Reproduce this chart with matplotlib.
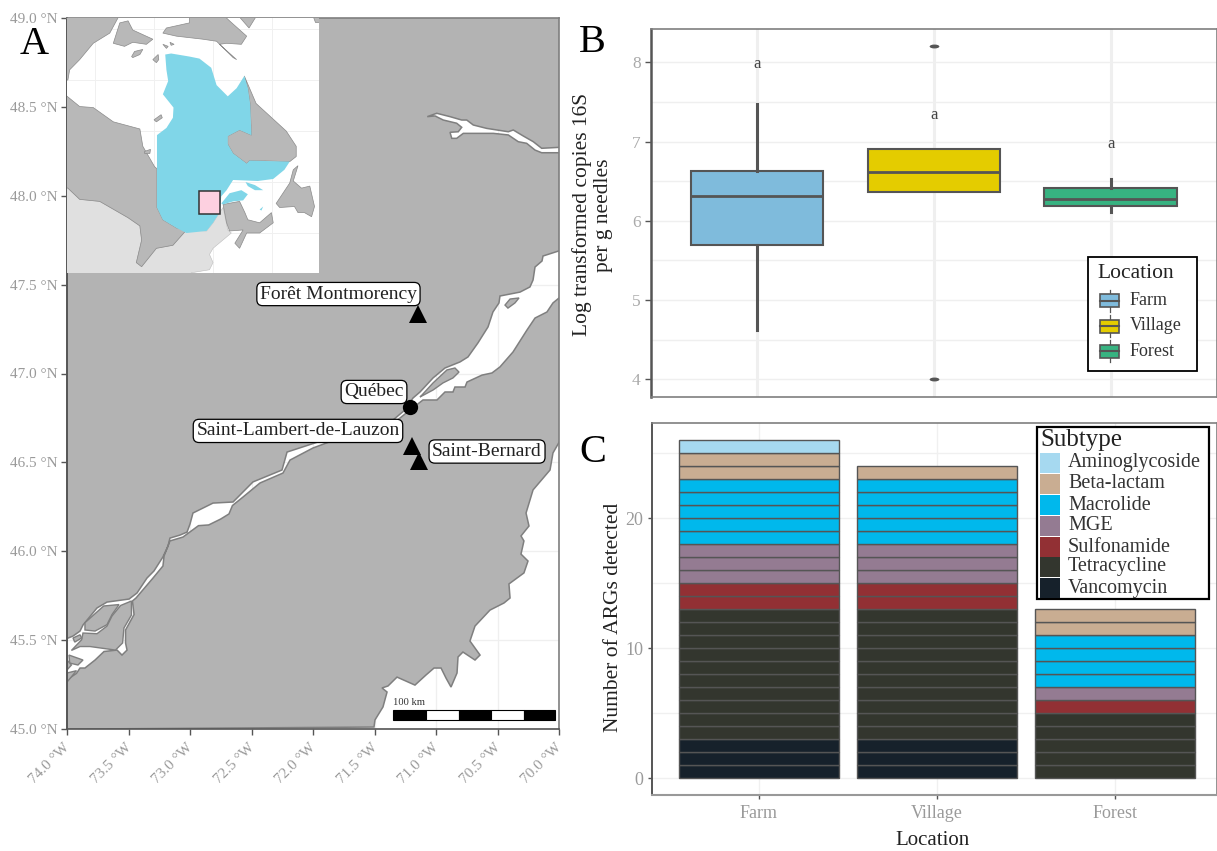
import numpy as np
import matplotlib
matplotlib.use('Agg')
import matplotlib.pyplot as plt
from matplotlib.patches import PathPatch, Rectangle, Polygon
from matplotlib.path import Path
from matplotlib.transforms import Affine2D, ScaledTranslation

plt.rcParams['font.family'] = ['Liberation Serif', 'DejaVu Sans']

W, H = 1217, 851

# --- panel A data (lon, lat) ---
estuary_north = [(-69.9, 47.712), (-70.130, 47.661), (-70.138, 47.633), (-70.195, 47.599), (-70.211, 47.526),
                 (-70.236, 47.487), (-70.317, 47.458), (-70.480, 47.436), (-70.488, 47.397), (-70.537, 47.346),
                 (-70.577, 47.262), (-70.659, 47.172), (-70.740, 47.093), (-70.805, 47.065), (-70.927, 47.031),
                 (-71.024, 46.975), (-71.130, 46.896), (-71.187, 46.862), (-71.252, 46.795), (-71.350, 46.738),
                 (-71.512, 46.721), (-71.959, 46.615), (-72.211, 46.558), (-72.252, 46.457), (-72.488, 46.390),
                 (-72.650, 46.277), (-72.813, 46.271), (-72.976, 46.215), (-73.000, 46.153), (-73.024, 46.108),
                 (-73.081, 46.091), (-73.163, 46.074), (-73.179, 46.029), (-73.220, 45.968), (-73.293, 45.889),
                 (-73.350, 45.849), (-73.431, 45.765), (-73.496, 45.731), (-73.675, 45.714), (-73.756, 45.681),
                 (-73.870, 45.585), (-73.894, 45.551), (-73.951, 45.523), (-74.05, 45.495)]
estuary_south = [(-74.05, 45.253), (-73.923, 45.313), (-73.894, 45.343), (-73.854, 45.343), (-73.772, 45.388),
                 (-73.699, 45.436), (-73.593, 45.444), (-73.553, 45.416), (-73.512, 45.444), (-73.524, 45.484),
                 (-73.524, 45.557), (-73.455, 45.644), (-73.468, 45.720), (-73.439, 45.737), (-73.301, 45.849),
                 (-73.220, 45.917), (-73.211, 45.973), (-73.163, 46.058), (-73.057, 46.080), (-72.931, 46.144),
                 (-72.848, 46.148), (-72.751, 46.181), (-72.683, 46.210), (-72.655, 46.257), (-72.569, 46.305),
                 (-72.431, 46.384), (-72.244, 46.440), (-72.187, 46.513), (-72.000, 46.581), (-71.496, 46.710),
                 (-71.333, 46.727), (-71.211, 46.795), (-71.106, 46.851), (-70.992, 46.851), (-70.927, 46.896),
                 (-70.862, 46.896), (-70.846, 46.924), (-70.764, 46.924), (-70.748, 46.952), (-70.626, 46.991),
                 (-70.545, 47.003), (-70.480, 47.037), (-70.374, 47.121), (-70.260, 47.245), (-70.195, 47.312),
                 (-70.098, 47.346), (-70.049, 47.397), (-69.9, 47.481)]
saguenay = [(-71.071, 48.445), (-70.994, 48.464), (-70.886, 48.445), (-70.791, 48.426), (-70.750, 48.426),
            (-70.697, 48.398), (-70.588, 48.379), (-70.412, 48.360), (-70.372, 48.370), (-70.290, 48.336),
            (-70.209, 48.304), (-70.141, 48.267), (-69.9, 48.276), (-69.9, 48.242), (-70.141, 48.242),
            (-70.195, 48.257), (-70.263, 48.295), (-70.331, 48.304), (-70.412, 48.342), (-70.534, 48.351),
            (-70.778, 48.351), (-70.832, 48.323), (-70.872, 48.323), (-70.886, 48.357), (-70.819, 48.360),
            (-70.791, 48.385), (-70.832, 48.408), (-70.941, 48.426), (-71.008, 48.449)]
south_east = [(-69.9, 46.733), (-70.049, 46.553), (-70.073, 46.457), (-70.211, 46.345), (-70.268, 46.215),
              (-70.244, 46.142), (-70.309, 46.086), (-70.285, 46.058), (-70.309, 45.984), (-70.252, 45.945),
              (-70.285, 45.878), (-70.407, 45.816), (-70.398, 45.737), (-70.447, 45.709), (-70.561, 45.669),
              (-70.683, 45.579), (-70.724, 45.495), (-70.642, 45.416), (-70.683, 45.388), (-70.781, 45.433),
              (-70.821, 45.405), (-70.829, 45.315), (-70.878, 45.236), (-70.919, 45.287), (-70.959, 45.343),
              (-71.016, 45.343), (-71.081, 45.304), (-71.171, 45.247), (-71.317, 45.292), (-71.390, 45.242),
              (-71.439, 45.231), (-71.398, 45.208), (-71.431, 45.124), (-71.496, 45.051), (-71.504, 45.011),
              (-74.05, 44.999), (-74.05, 44.9), (-69.9, 44.9)]
river_islands = [
    [(-71.130, 46.868), (-71.024, 46.907), (-70.943, 46.947), (-70.862, 46.975), (-70.813, 47.008),
     (-70.846, 47.031), (-70.911, 47.020), (-71.024, 46.947), (-71.114, 46.879)],
    [(-70.439, 47.385), (-70.398, 47.419), (-70.325, 47.425), (-70.358, 47.397), (-70.415, 47.368)],
    [(-73.577, 45.700), (-73.702, 45.692), (-73.854, 45.598), (-73.854, 45.557), (-73.772, 45.551),
     (-73.675, 45.587), (-73.634, 45.644)],
    [(-73.476, 45.720), (-73.564, 45.695), (-73.634, 45.636), (-73.675, 45.579), (-73.756, 45.536),
     (-73.870, 45.540), (-73.881, 45.502), (-73.964, 45.442), (-73.894, 45.464), (-73.813, 45.464),
     (-73.606, 45.444), (-73.548, 45.484), (-73.537, 45.568), (-73.476, 45.641)],
    [(-73.951, 45.512), (-73.894, 45.530), (-73.881, 45.512), (-73.937, 45.489)],
    [(-73.984, 45.416), (-73.870, 45.388), (-73.911, 45.360), (-73.978, 45.371)],
    [(-74.0, 45.388), (-73.964, 45.360), (-74.0, 45.332)],
    [(-74.0, 45.315), (-73.923, 45.328), (-74.0, 45.264)],
]

site_lon = [-71.146, -71.198, -71.136]
site_lat = [47.335, 46.594, 46.509]
city_lon = [-71.211]
city_lat = [46.812]
label_names = ['Forêt Montmorency', 'Québec', 'Saint-Lambert-de-Lauzon', 'Saint-Bernard']
label_lon = [-71.793, -71.504, -72.122, -70.585]
label_lat = [47.447, 46.896, 46.677, 46.561]
scale_edges = [-71.35, -71.081, -70.817, -70.549, -70.287, -70.03]

lon_ticks = [-74.0, -73.5, -73.0, -72.5, -72.0, -71.5, -71.0, -70.5, -70.0]
lat_ticks = [45.0, 45.5, 46.0, 46.5, 47.0, 47.5, 48.0, 48.5, 49.0]

# --- inset data (lon, lat) ---
quebec = [(-78.1, 62.5), (-77.1, 62.6), (-74.0, 62.3), (-72.3, 62.1), (-70.3, 61.2), (-69.4, 59.5), (-67.5, 58.4),
          (-66.0, 59.2), (-64.7, 60.4), (-64.1, 59.2), (-63.7, 57.6), (-63.5, 54.6), (-65.5, 55.1), (-67.5, 54.5),
          (-67.5, 53.7), (-66.6, 52.8), (-64.3, 51.8), (-63.8, 52.1), (-57.0, 52.0), (-57.9, 51.2), (-59.8, 50.3),
          (-62.4, 50.1), (-66.6, 50.2), (-67.7, 49.2), (-68.6, 48.6), (-68.9, 47.0), (-70.0, 46.0), (-71.1, 45.2),
          (-74.5, 45.0), (-76.2, 45.5), (-78.5, 46.3), (-79.5, 47.5), (-79.5, 54.6), (-77.9, 55.3), (-76.8, 56.3),
          (-76.7, 57.3), (-78.5, 58.6), (-77.6, 59.9), (-77.9, 61.0)]
quebec_parts = [[(-68.6, 47.9), (-67.2, 48.9), (-65.2, 49.2), (-64.1, 48.8), (-64.9, 48.2), (-66.6, 48.1), (-68.3, 47.8)],
                [(-64.5, 50.0), (-62.9, 49.7), (-61.5, 49.2), (-62.9, 49.2), (-64.1, 49.6)],
                [(-62.1, 47.3), (-61.5, 47.6), (-61.8, 47.2)]]
usa = [(-96, 49.6), (-94.6, 49.4), (-92.6, 48.3), (-89.2, 48.1), (-84.4, 46.5), (-82.4, 45.7), (-82.1, 44.3),
       (-83.0, 42.1), (-82.1, 41.7), (-79.6, 43.5), (-76.8, 43.8), (-74.5, 45.3), (-71.1, 45.2), (-70.0, 46.0),
       (-68.9, 47.0), (-68.3, 47.5), (-67.5, 45.3), (-66.9, 45.0), (-70.0, 43.5), (-70.6, 42.9), (-70.0, 42.1),
       (-70.6, 41.4), (-73.7, 41.1), (-73.7, 40.5), (-96, 40.5)]
ontario = [(-96, 59.0), (-92.6, 57.4), (-90.3, 57.3), (-86.9, 55.9), (-82.4, 55.2), (-81.9, 53.5), (-79.9, 51.5),
           (-79.5, 51.3), (-79.5, 47.5), (-78.5, 46.3), (-76.2, 45.5), (-74.5, 45.3), (-76.8, 43.8), (-79.6, 43.5),
           (-82.1, 41.7), (-83.0, 42.1), (-82.1, 44.3), (-82.4, 45.7), (-84.4, 46.5), (-89.2, 48.1), (-92.6, 48.3),
           (-94.6, 49.4), (-96, 49.6)]
labrador = [(-64.7, 60.4), (-62.7, 57.7), (-57.6, 55.0), (-55.9, 53.5), (-55.9, 52.5), (-57.0, 52.0), (-63.8, 52.1),
            (-64.3, 51.8), (-66.6, 52.8), (-67.5, 53.7), (-67.5, 54.5), (-65.5, 55.1), (-63.5, 54.6), (-63.7, 57.6),
            (-64.1, 59.2)]
maritimes = [(-68.3, 47.8), (-65.5, 48.1), (-64.6, 47.0), (-64.1, 46.3), (-62.1, 46.0), (-60.1, 47.0), (-59.8, 46.0),
             (-62.1, 45.0), (-64.3, 45.0), (-65.5, 43.5), (-66.3, 44.0), (-64.9, 45.3), (-67.2, 45.2), (-67.7, 46.0)]
newfoundland = [(-59.3, 47.9), (-57.0, 49.9), (-56.4, 51.2), (-55.6, 51.6), (-56.4, 50.1), (-55.0, 49.4), (-53.6, 49.6),
                (-52.8, 47.6), (-53.3, 46.6), (-54.5, 47.0), (-55.6, 47.0), (-56.2, 47.6), (-58.7, 47.5)]
nunavut = [(-96, 67), (-86.1, 67), (-86.1, 66.1), (-87.5, 64.6), (-90.3, 63.6), (-92.6, 62.0), (-94.3, 61.0),
           (-94.6, 60.0), (-96, 60.0)]
southampton = [(-86.9, 63.6), (-85.8, 65.6), (-84.4, 65.8), (-83.6, 64.9), (-80.2, 64.0), (-81.3, 63.5), (-83.6, 63.7),
               (-85.0, 63.3)]
baffin = [(-74.0, 66.5), (-74.0, 65.6), (-77.9, 65.1), (-78.5, 64.6), (-76.2, 64.3), (-71.7, 64.0), (-69.4, 63.8),
          (-66.6, 62.2), (-66.0, 62.0), (-68.9, 63.5), (-67.7, 63.6), (-65.2, 63.5), (-64.3, 64.3), (-67.2, 65.8),
          (-68.5, 66.5)]
small_land = [[(-66.0, 66.5), (-62.4, 66.5), (-63.9, 65.1)],
              [(-83.8, 62.3), (-83.3, 62.8), (-81.9, 63.0), (-82.4, 62.5), (-83.6, 62.2)],
              [(-80.2, 62.0), (-79.3, 62.5), (-79.2, 62.0), (-79.6, 61.7)],
              [(-78.5, 63.5), (-77.6, 63.3), (-77.9, 63.1)],
              [(-77.3, 63.7), (-76.6, 63.5), (-77.1, 63.4)],
              [(-80.0, 56.1), (-78.8, 56.6), (-78.6, 56.3), (-79.6, 55.9)],
              [(-81.6, 53.0), (-80.6, 53.2), (-80.7, 52.8), (-81.6, 52.8)],
              [(-53.3, 66.5), (-52, 66.5), (-52, 65.7), (-52.7, 65.7)]]
study_box = [-72.4, 46.9, 3.5, 2.2]

# --- panel B data ---
locations = ['Farm', 'Village', 'Forest']
box_q1 = [5.697, 6.366, 6.19]
box_med = [6.31, 6.613, 6.27]
box_q3 = [6.63, 6.90, 6.41]
box_lo = [4.62, 6.366, 6.11]
box_hi = [7.47, 6.90, 6.53]
box_out = [[], [4.0, 8.21], []]
box_colors = ['#7fbbdc', '#e4cc00', '#37b381']
letter_y = [7.98, 7.33, 6.97]

# --- panel C data ---
subtypes = ['Aminoglycoside', 'Beta-lactam', 'Macrolide', 'MGE', 'Sulfonamide', 'Tetracycline', 'Vancomycin']
sub_colors = ['#a6d9f0', '#c9ad92', '#00b8ec', '#947b92', '#923034', '#33362e', '#16212b']
farm_counts = [1, 2, 5, 3, 2, 10, 3]
village_counts = [0, 1, 5, 3, 2, 10, 3]
forest_counts = [0, 2, 4, 1, 1, 5, 0]

TICK_GREY = '#9a9a9a'
LINE_DARK = '#555555'
EDGE_GREY = '#7f7f7f'


def px_rect(left, top, right, bottom):
    return [left / W, 1 - bottom / H, (right - left) / W, (bottom - top) / H]


def style_spines(ax):
    for s in ['top', 'right', 'bottom']:
        ax.spines[s].set_color(EDGE_GREY)
        ax.spines[s].set_linewidth(1.2)
    ax.spines['left'].set_color(LINE_DARK)
    ax.spines['left'].set_linewidth(1.4)


def ring(points, hole=False):
    # holes must wind the opposite way to the outer ring
    pts = np.array(points)
    x, y = pts[:, 0], pts[:, 1]
    area = 0.5 * np.sum(x * np.roll(y, -1) - np.roll(x, -1) * y)
    if (area < 0) != hole:
        pts = pts[::-1]
    return pts


fig = plt.figure(figsize=(W / 100, H / 100), dpi=100, facecolor='white')

# panel A
ax_a = fig.add_axes(px_rect(67, 18, 559, 729))
ax_a.set_xlim(-74, -70)
ax_a.set_ylim(45, 49)
ax_a.set_axisbelow(True)
ax_a.grid(True, color='#efefef', lw=0.9)

outer = ring([(-75, 44), (-69, 44), (-69, 50), (-75, 50)])
rings = [outer,
         ring(estuary_north + estuary_south, hole=True),
         ring(saguenay, hole=True),
         ring(south_east, hole=True)]
verts, codes = [], []
for r in rings:
    verts.extend(r.tolist() + [r[0].tolist()])
    codes.extend([Path.MOVETO] + [Path.LINETO] * (len(r) - 1) + [Path.CLOSEPOLY])
ax_a.add_patch(PathPatch(Path(verts, codes), facecolor='#b3b3b3', edgecolor=EDGE_GREY, lw=1.1, zorder=1))
for isl in river_islands:
    ax_a.add_patch(Polygon(isl, closed=True, facecolor='#b3b3b3', edgecolor=EDGE_GREY, lw=1.0, zorder=2))

ax_a.plot(site_lon, site_lat, ls='none', marker='^', ms=13.5, color='black', mew=0, zorder=4)
ax_a.plot(city_lon, city_lat, ls='none', marker='o', ms=11, color='black', mew=0, zorder=4)
for name, lo, la in zip(label_names, label_lon, label_lat):
    ax_a.text(lo, la, name, fontsize=14, color='#222222', ha='center', va='center', zorder=5,
              bbox=dict(boxstyle='round,pad=0.16,rounding_size=0.3', fc='white', ec='black', lw=0.9))

for i in range(5):
    ax_a.add_patch(Rectangle((scale_edges[i], 45.051), scale_edges[i + 1] - scale_edges[i], 0.056,
                             facecolor='black' if i % 2 == 0 else 'white', edgecolor='black', lw=0.8, zorder=5))
ax_a.text(scale_edges[0], 45.124, '100 km', fontsize=7.6, color='#333333', ha='left', va='bottom', zorder=5)

ax_a.set_xticks(lon_ticks)
ax_a.set_yticks(lat_ticks)
ax_a.set_xticklabels(['%.1f °W' % abs(v) for v in lon_ticks], rotation=45, ha='right', rotation_mode='anchor')
ax_a.set_yticklabels(['%.1f °N' % v for v in lat_ticks])
ax_a.tick_params(axis='both', colors=LINE_DARK, labelcolor=TICK_GREY, labelsize=11, length=4, width=1, pad=3)
shift = ScaledTranslation(-4 / 100, -2 / 100, fig.dpi_scale_trans)
for lab in ax_a.get_xticklabels():
    lab.set_transform(lab.get_transform() + shift)
style_spines(ax_a)
ax_a.spines['bottom'].set_color(LINE_DARK)

# inset map
ax_i = fig.add_axes(px_rect(67, 18, 318.7, 273), zorder=3)
ax_i.set_xlim(-94.75, -52.09)
ax_i.set_ylim(41.08, 66.08)
ax_i.set_axisbelow(True)
ax_i.set_xticks([-90, -80, -70, -60])
ax_i.set_yticks([45, 50, 55, 60, 65])
ax_i.grid(True, color='#f0f0f0', lw=0.7)
ax_i.tick_params(length=0, labelbottom=False, labelleft=False)
for s in ax_i.spines.values():
    s.set_visible(False)
ax_i.add_patch(Polygon(usa, facecolor='#e0e0e0', edgecolor='#bdbdbd', lw=0.4, zorder=1))
for part in [ontario, labrador, maritimes, newfoundland, nunavut, southampton, baffin] + small_land:
    ax_i.add_patch(Polygon(part, facecolor='#b8b8b8', edgecolor='#8a8a8a', lw=0.5, zorder=2))
for part in [quebec] + quebec_parts:
    ax_i.add_patch(Polygon(part, facecolor='#80d6e8', edgecolor='none', zorder=3))
ax_i.add_patch(Rectangle(study_box[:2], study_box[2], study_box[3], facecolor='#fdd0e0', edgecolor='#333333',
                         lw=1.1, zorder=4))

# panel B
ax_b = fig.add_axes(px_rect(651, 29, 1217, 397))
stats = [dict(med=m, q1=a, q3=b, whislo=lo, whishi=hi, fliers=f)
         for m, a, b, lo, hi, f in zip(box_med, box_q1, box_q3, box_lo, box_hi, box_out)]
flat_dot = Path.unit_circle().transformed(Affine2D().scale(1, 0.4))
bp = ax_b.bxp(stats, positions=[1, 2, 3], widths=0.75, patch_artist=True, showcaps=False,
              medianprops=dict(color=LINE_DARK, lw=2),
              whiskerprops=dict(color=LINE_DARK, lw=2.2),
              boxprops=dict(edgecolor=LINE_DARK, lw=1.5),
              flierprops=dict(marker=flat_dot, ms=7, mfc=LINE_DARK, mec=LINE_DARK, mew=0),
              zorder=3)
for patch, col in zip(bp['boxes'], box_colors):
    patch.set_facecolor(col)
for i, ly in enumerate(letter_y):
    ax_b.text(i + 1, ly, 'a', fontsize=12, color='#444444', ha='center', va='center')
ax_b.set_xlim(0.401, 3.6)
ax_b.set_ylim(3.777, 8.42)
ax_b.set_axisbelow(True)
ax_b.set_xticks([1, 2, 3])
ax_b.set_xticklabels([])
ax_b.set_yticks([4, 5, 6, 7, 8])
ax_b.set_yticks([4.5, 5.5, 6.5, 7.5], minor=True)
ax_b.grid(True, axis='y', which='both', color='#efefef', lw=1)
ax_b.grid(True, axis='x', color='#efefef', lw=2.2)
ax_b.tick_params(axis='x', length=0)
ax_b.tick_params(axis='y', which='minor', length=0)
ax_b.tick_params(axis='y', colors=LINE_DARK, labelcolor='#aaaaaa', labelsize=12.5, length=4, width=1)
ax_b.set_ylabel('Log transformed copies 16S\nper g needles', fontsize=15.5, color='#222222', linespacing=1.15,
                va='center')
ax_b.yaxis.set_label_coords(-0.104, 0.495)
style_spines(ax_b)
ax_b.spines['left'].set_linewidth(1.8)

# panel C
ax_c = fig.add_axes(px_rect(652, 423, 1217, 795))
for i, counts in enumerate([farm_counts, village_counts, forest_counts]):
    bottom = 0
    for count, col in list(zip(counts, sub_colors))[::-1]:
        for _ in range(count):
            ax_c.bar(i + 1, 1, width=0.9, bottom=bottom, color=col, edgecolor=LINE_DARK, lw=1, zorder=3)
            bottom += 1
ax_c.set_xlim(0.399, 3.573)
ax_c.set_ylim(-1.285, 27.33)
ax_c.set_axisbelow(True)
ax_c.set_xticks([1, 2, 3])
ax_c.set_xticklabels(locations)
ax_c.set_yticks([0, 10, 20])
ax_c.set_yticks([5, 15, 25], minor=True)
ax_c.grid(True, which='both', axis='y', color='#f0f0f0', lw=1)
ax_c.grid(True, axis='x', color='#f0f0f0', lw=1)
ax_c.tick_params(axis='y', which='minor', length=0)
ax_c.tick_params(axis='both', which='major', colors=LINE_DARK, labelcolor=TICK_GREY, labelsize=13, length=3, width=1)
ax_c.tick_params(axis='x', labelsize=13, pad=4)
ax_c.set_xlabel('Location', fontsize=15, color='#222222')
ax_c.xaxis.set_label_coords(0.497, -0.121)
ax_c.xaxis.label.set_verticalalignment('center')
ax_c.set_ylabel('Number of ARGs detected', fontsize=15.5, color='#222222', va='center')
ax_c.yaxis.set_label_coords(-0.069, 0.478)
style_spines(ax_c)
ax_c.spines['bottom'].set_color('#999999')
ax_c.spines['bottom'].set_linewidth(1.5)

# overlay for panel letters and the two legends, in pixel units
ov = fig.add_axes([0, 0, 1, 1], zorder=10)
ov.set_xlim(0, W)
ov.set_ylim(H, 0)
ov.axis('off')
ov.patch.set_alpha(0)
for letter, x, y in zip('ABC', [34, 592, 593], [45, 42, 452]):
    ov.text(x, y, letter, fontsize=29, color='black', ha='center', va='center')

ov.add_patch(Rectangle((1088, 257), 109, 114, facecolor='white', edgecolor='black', lw=1.3))
ov.text(1097, 273, 'Location', fontsize=15.5, color='#222222', ha='left', va='center')
for name, col, y in zip(locations, box_colors, [300.7, 326, 351]):
    ov.plot([1109.5, 1109.5], [y - 11, y + 11], color=LINE_DARK, lw=0.9)
    ov.add_patch(Rectangle((1100, y - 6.5), 19, 13, facecolor=col, edgecolor=LINE_DARK, lw=1.2, zorder=3))
    ov.plot([1100, 1119], [y, y], color=LINE_DARK, lw=1.5, zorder=4)
    ov.text(1130, y, name, fontsize=13, color='#333333', ha='left', va='center')

ov.add_patch(Rectangle((1037, 427), 172, 172, facecolor='white', edgecolor='black', lw=1.6))
ov.text(1040, 440, 'Subtype', fontsize=18, color='#222222', ha='left', va='center')
for name, col, y in zip(subtypes, sub_colors, [463, 484, 505, 526, 547, 567, 588]):
    ov.add_patch(Rectangle((1040, y - 10), 20, 20, facecolor=col, edgecolor='none'))
    ov.text(1068, y, name, fontsize=14.5, color='#333333', ha='left', va='center')

fig.savefig('out.png', dpi=100)
